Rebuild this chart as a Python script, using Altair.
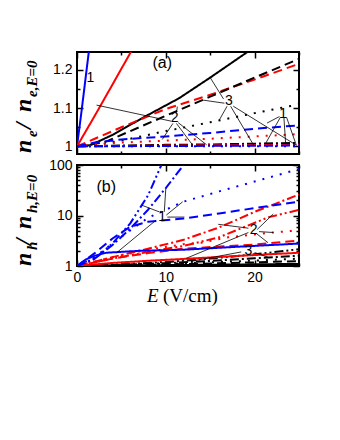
import altair as alt
import pandas as pd

# ---------------- data: panel (a)  n_e / n_e,E=0 ----------------
a_blue_solid_E = [0, 0.5, 1.0, 1.5]
a_blue_solid_v = [1, 1.09, 1.185, 1.28]
a_red_solid_E = [0, 2, 4, 6.5]
a_red_solid_v = [1, 1.08, 1.162, 1.265]
a_black_solid_E = [0, 1.5, 4, 7.5, 11.5, 15, 20]
a_black_solid_v = [1, 1.003, 1.03, 1.076, 1.126, 1.18, 1.26]
a_red_dashed_E = [0, 2, 5, 10, 15, 20, 25]
a_red_dashed_v = [1, 1.02, 1.05, 1.098, 1.135, 1.175, 1.216]
a_black_dashed_E = [0, 3, 6, 10, 15, 20, 25]
a_black_dashed_v = [1, 1.01, 1.04, 1.08, 1.13, 1.18, 1.229]
a_black_dotted_E = [0, 2, 5, 10, 15, 20, 25]
a_black_dotted_v = [1, 1.003, 1.015, 1.04, 1.063, 1.087, 1.11]
a_blue_dashed_E = [0, 2, 5, 10, 15, 20, 25]
a_blue_dashed_v = [1, 1.01, 1.018, 1.026, 1.035, 1.046, 1.055]
a_red_dotted_E = [0, 2, 5, 10, 15, 20, 25]
a_red_dotted_v = [1, 1.005, 1.01, 1.015, 1.02, 1.026, 1.032]
a_black_dashdot_E = [0, 5, 10, 15, 20, 25]
a_black_dashdot_v = [1, 1.002, 1.004, 1.005, 1.007, 1.009]
a_red_dashdot_E = [0, 10, 25]
a_red_dashdot_v = [1, 1.002, 1.004]
a_blue_dashdot_E = [0, 10, 25]
a_blue_dashdot_v = [1, 1.001, 1.002]
a_blue_dotted_E = [0, 25]
a_blue_dotted_v = [1, 1.0]

# ---------------- data: panel (b)  n_h / n_h,E=0 ----------------
b_blue_solid_E = [0, 1, 2, 3.3, 7, 12, 18, 25]
b_blue_solid_v = [1, 1.35, 1.6, 1.83, 2.0, 2.1, 2.4, 2.78]
b_blue_dashdotdot_E = [0, 2, 4, 6, 8, 9.5]
b_blue_dashdotdot_v = [1, 1.4, 2.8, 7, 25, 100]
b_blue_dashdot_E = [0, 2, 4, 6, 8, 10, 12]
b_blue_dashdot_v = [1, 1.4, 2.6, 5.5, 13, 35, 100]
b_blue_dotted_E = [0, 2, 4.5, 8, 12, 16, 20, 25]
b_blue_dotted_v = [1, 1.5, 3.3, 9, 18.8, 30, 47, 83]
b_blue_dashed_E = [0, 2, 4, 6, 8, 12, 16, 20, 25]
b_blue_dashed_v = [1, 1.8, 3.5, 6, 7.5, 8.7, 11, 14, 18.7]
b_red_dashdot_E = [0, 4, 8, 12, 16, 20, 25]
b_red_dashdot_v = [1, 1.5, 2.2, 3.3, 5.8, 11.8, 26]
b_red_dashdotdot_E = [0, 4, 8, 12, 16, 21.6, 25]
b_red_dashdotdot_v = [1, 1.4, 1.9, 2.5, 3.7, 9.3, 12.9]
b_red_dotted_E = [0, 4, 8, 12, 14, 17, 22, 25]
b_red_dotted_v = [1, 1.5, 2.1, 2.7, 2.9, 3.7, 4.6, 5.1]
b_red_dashed_E = [0, 4, 8, 12, 19.8, 25]
b_red_dashed_v = [1, 1.4, 1.8, 2.2, 2.65, 3.2]
b_red_solid_E = [0, 4, 8, 12, 18, 25]
b_red_solid_v = [1, 1.15, 1.27, 1.38, 1.58, 1.83]
b_black_E = [0, 5, 10, 15, 20, 25]
b_black_dashdotdot_v = [1, 1.08, 1.2, 1.4, 1.7, 2.15]
b_black_dashdot_v = [1, 1.06, 1.14, 1.26, 1.42, 1.6]
b_black_dotted_v = [1, 1.05, 1.1, 1.18, 1.28, 1.4]
b_black_dashed_v = [1, 1.03, 1.07, 1.12, 1.18, 1.25]
b_black_solid_v = [1, 1.02, 1.04, 1.06, 1.08, 1.1]

# ---------------- annotation leader lines (x1, y1, x2, y2) ----------------
a_lead_x1 = [2.2, 11.2, 10.8, 11.2, 11.4, 16.5, 16.6, 16.9, 17.3, 17.6, 22.8, 22.9, 23.3, 23.6]
a_lead_y1 = [1.108, 1.088, 1.06, 1.06, 1.062, 1.124, 1.113, 1.105, 1.105, 1.105, 1.078, 1.076, 1.076, 1.076]
a_lead_x2 = [10.6, 11.3, 9.6, 13.0, 14.6, 15.0, 14.2, 16.0, 19.9, 24.7, 21.4, 21.2, 23.5, 24.7]
a_lead_y2 = [1.066, 1.104, 1.018, 1.004, 1.004, 1.18, 1.121, 1.068, 1.003, 1.003, 1.061, 1.006, 1.006, 1.003]

b_lead_x1 = [9.26, 9.83, 10.06, 10.17, 8.91, 19.3, 20.3, 20.5, 20.2, 19.3, 18.5, 20.0]
b_lead_y1 = [11.8, 11.8, 10.2, 9.3, 8.1, 5.6, 5.3, 4.8, 4.4, 4.6, 1.9, 1.85]
b_lead_x2 = [7.3, 10.0, 11.9, 12.1, 4.46, 15.9, 22.1, 22.1, 21.5, 12.3, 13.0, 21.5]
b_lead_y2 = [16, 34, 18.7, 9.3, 1.83, 6.7, 10.7, 4.6, 2.9, 1.42, 1.25, 1.5]

# ---------------- in-plot labels ----------------
a_lbl_text = ["1", "2", "3", "1"]
a_lbl_E = [1.5, 11.0, 17.1, 23.2]
a_lbl_v = [1.18, 1.074, 1.118, 1.084]
a_panel_text = ["(a)"]
a_panel_E = [9.6]
a_panel_v = [1.218]
b_lbl_text = ["1", "2", "3"]
b_lbl_E = [9.6, 19.9, 19.3]
b_lbl_v = [9.3, 5.1, 2.0]
b_panel_text = ["(b)"]
b_panel_E = [3.3]
b_panel_v = [37]

BLUE, RED, BLACK = "#0000ff", "#ff0000", "#000000"
DASH_NAMES = ["solid", "dashed", "dotted", "dashdot", "dashdotdot"]
DASH_ARRAYS = [[1, 0], [9, 5], [2, 7], [9, 3, 2, 3], [9, 3, 2, 3, 2, 3]]

series_a = [
    ("blue", BLUE, "solid", a_blue_solid_E, a_blue_solid_v),
    ("red", RED, "solid", a_red_solid_E, a_red_solid_v),
    ("black", BLACK, "solid", a_black_solid_E, a_black_solid_v),
    ("red", RED, "dashed", a_red_dashed_E, a_red_dashed_v),
    ("black", BLACK, "dashed", a_black_dashed_E, a_black_dashed_v),
    ("black", BLACK, "dotted", a_black_dotted_E, a_black_dotted_v),
    ("blue", BLUE, "dashed", a_blue_dashed_E, a_blue_dashed_v),
    ("red", RED, "dotted", a_red_dotted_E, a_red_dotted_v),
    ("black", BLACK, "dashdot", a_black_dashdot_E, a_black_dashdot_v),
    ("red", RED, "dashdot", a_red_dashdot_E, a_red_dashdot_v),
    ("blue", BLUE, "dashdot", a_blue_dashdot_E, a_blue_dashdot_v),
    ("blue", BLUE, "dotted", a_blue_dotted_E, a_blue_dotted_v),
]
series_b = [
    ("black", BLACK, "solid", b_black_E, b_black_solid_v),
    ("black", BLACK, "dashed", b_black_E, b_black_dashed_v),
    ("black", BLACK, "dotted", b_black_E, b_black_dotted_v),
    ("black", BLACK, "dashdot", b_black_E, b_black_dashdot_v),
    ("black", BLACK, "dashdotdot", b_black_E, b_black_dashdotdot_v),
    ("red", RED, "solid", b_red_solid_E, b_red_solid_v),
    ("red", RED, "dashed", b_red_dashed_E, b_red_dashed_v),
    ("red", RED, "dotted", b_red_dotted_E, b_red_dotted_v),
    ("red", RED, "dashdotdot", b_red_dashdotdot_E, b_red_dashdotdot_v),
    ("red", RED, "dashdot", b_red_dashdot_E, b_red_dashdot_v),
    ("blue", BLUE, "solid", b_blue_solid_E, b_blue_solid_v),
    ("blue", BLUE, "dashed", b_blue_dashed_E, b_blue_dashed_v),
    ("blue", BLUE, "dotted", b_blue_dotted_E, b_blue_dotted_v),
    ("blue", BLUE, "dashdot", b_blue_dashdot_E, b_blue_dashdot_v),
    ("blue", BLUE, "dashdotdot", b_blue_dashdotdot_E, b_blue_dashdotdot_v),
]


def lines_df(series):
    rows = []
    for k, (_, col, dash, Es, vs) in enumerate(series):
        for i, (e, v) in enumerate(zip(Es, vs)):
            rows.append({"sid": k, "i": i, "E": e, "v": v, "color": col, "dash": dash})
    return pd.DataFrame(rows)


W = 222
H_A, H_B = 102, 101
PLOT_LEFT, TOP_A, TOP_B = 78, 52, 162

X_SCALE = alt.Scale(domain=[0, 25], nice=False, zero=False)
SERIF = "Liberation Serif"
SANS = "Liberation Sans"


def x_axis(orient, labels):
    return alt.Axis(orient=orient, values=[0, 5, 10, 15, 20, 25], labels=labels,
                    labelExpr="(datum.value == 0 || datum.value == 10 || datum.value == 20) ? datum.label : ''",
                    tickSize={"expr": "(datum.value % 10 == 0) ? -6 : -3"},
                    labelPadding=10, domain=False, grid=False, title=None,
                    labelFlush=False, labelOverlap=False)


def y_axis_a(orient, labels):
    return alt.Axis(orient=orient, values=[1, 1.05, 1.1, 1.15, 1.2], labels=labels, format="~g",
                    labelExpr="(datum.value == 1.05 || datum.value == 1.15) ? '' : datum.label",
                    tickSize={"expr": "(datum.value == 1.05 || datum.value == 1.15) ? -3 : -6"},
                    labelPadding=11, domain=False, grid=False, title=None,
                    labelFlush=False, labelOverlap=False)


LOG_VALUES = [1, 2, 3, 4, 5, 6, 7, 8, 9, 10, 20, 30, 40, 50, 60, 70, 80, 90, 100]


def y_axis_b(orient, labels):
    return alt.Axis(orient=orient, values=LOG_VALUES, labels=labels, format="~g",
                    labelExpr="(datum.value == 1 || datum.value == 10 || datum.value == 100) ? datum.label : ''",
                    tickSize={"expr": "(datum.value == 1 || datum.value == 10 || datum.value == 100) ? -6 : -3"},
                    labelPadding=11, domain=False, grid=False, title=None,
                    labelFlush=False, labelOverlap=False)


def text_piece(txt, x, y, size, style="italic", weight="bold", angle=270, align="left"):
    return alt.Chart(pd.DataFrame({"t": [txt]})).mark_text(
        text=txt, x=x, y=y, angle=angle, align=align, baseline="alphabetic",
        font=SERIF, fontSize=size, fontStyle=style, fontWeight=weight, color="black")


def ylabel_pieces(letter, top):
    # page coordinates of each piece -> plot coordinates
    specs_a = [("n", 32, 153, 24), (letter, 38, 137, 15), ("/", 32, 129, 24),
               ("n", 32, 112, 24), (letter + ",E=0", 38, 97, 15)]
    specs_b = [("n", 32, 263, 24), (letter, 38, 247, 15), ("/", 32, 242, 24),
               ("n", 32, 226, 24), (letter + ",E=0", 38, 210, 15)]
    specs = specs_a if letter == "e" else specs_b
    return [text_piece(t, px - PLOT_LEFT, py - top, s) for (t, px, py, s) in specs]


def panel(series, yscale, yax, lead, lbls, plbl, letter, top, height, bottom_labels, extra=()):
    df = lines_df(series)
    y_enc = lambda ax: alt.Y("v:Q", scale=yscale, axis=ax)
    lines = alt.Chart(df).mark_line(strokeWidth=2, clip=True, strokeCap="butt").encode(
        x=alt.X("E:Q", scale=X_SCALE, axis=x_axis("bottom", bottom_labels)),
        y=y_enc(yax("left", True)),
        color=alt.Color("color:N", scale=None),
        strokeDash=alt.StrokeDash("dash:N", scale=alt.Scale(domain=DASH_NAMES, range=DASH_ARRAYS), legend=None),
        detail="sid:N",
        order="i:Q",
    )
    mirror = alt.Chart(df).mark_point(opacity=0, clip=True).encode(
        x=alt.X("E:Q", scale=X_SCALE, axis=x_axis("top", False)),
        y=y_enc(yax("right", False)),
    )
    x1, y1, x2, y2 = lead
    ldf = pd.DataFrame({"x1": x1, "y1": y1, "x2": x2, "y2": y2})
    leaders = alt.Chart(ldf).mark_rule(color="black", strokeWidth=0.8, clip=True).encode(
        x=alt.X("x1:Q", axis=None), y=alt.Y("y1:Q", axis=None),
        x2="x2:Q", y2="y2:Q")
    t, e, v = lbls
    tdf = pd.DataFrame({"t": t, "E": e, "v": v})
    labels = alt.Chart(tdf).mark_text(font=SANS, fontSize=14, color="black").encode(
        x=alt.X("E:Q", axis=None), y=alt.Y("v:Q", axis=None), text="t:N")
    pt, pe, pv = plbl
    pdf = pd.DataFrame({"t": pt, "E": pe, "v": pv})
    plabel = alt.Chart(pdf).mark_text(font=SANS, fontSize=16, color="black").encode(
        x=alt.X("E:Q", axis=None), y=alt.Y("v:Q", axis=None), text="t:N")
    layers = [lines, mirror, leaders, labels, plabel] + ylabel_pieces(letter, top) + list(extra)
    return alt.layer(*layers).resolve_axis(x="independent", y="independent").properties(
        width=W, height=height)


panel_a = panel(series_a, alt.Scale(domain=[0.98, 1.247], nice=False, zero=False), y_axis_a,
                (a_lead_x1, a_lead_y1, a_lead_x2, a_lead_y2),
                (a_lbl_text, a_lbl_E, a_lbl_v), (a_panel_text, a_panel_E, a_panel_v),
                "e", TOP_A, H_A, False)

xt = [text_piece("E", 148 - PLOT_LEFT, 299 - TOP_B, 19, style="italic", weight="normal", angle=0),
      text_piece("(V/cm)", 164 - PLOT_LEFT, 299 - TOP_B, 19, style="normal", weight="normal", angle=0)]

panel_b = panel(series_b, alt.Scale(type="log", domain=[1, 100], nice=False), y_axis_b,
                (b_lead_x1, b_lead_y1, b_lead_x2, b_lead_y2),
                (b_lbl_text, b_lbl_E, b_lbl_v), (b_panel_text, b_panel_E, b_panel_v),
                "h", TOP_B, H_B, True, extra=xt)

chart = alt.vconcat(panel_a, panel_b, spacing=1).properties(
    padding={"left": 3, "top": 42, "right": 5, "bottom": 5},
    background="white",
).configure_view(stroke="black", strokeWidth=2).configure_axis(
    labelFont=SANS, labelFontSize=14, labelColor="black", tickColor="black", tickWidth=1.5,
)

chart.save("out.html", embed_options={"renderer": "svg", "actions": False})
